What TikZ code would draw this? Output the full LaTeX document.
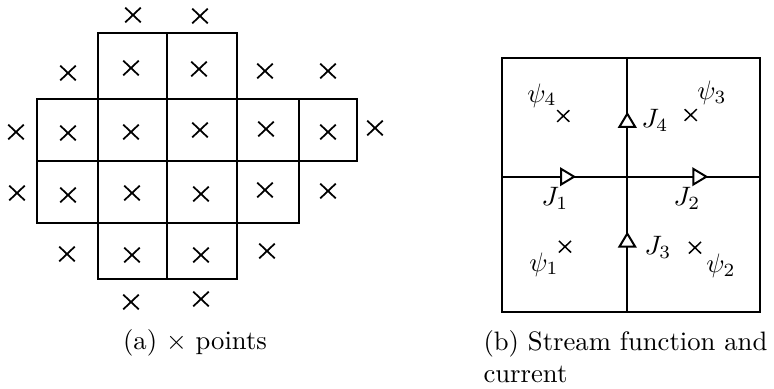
\documentclass[tikz,border=0pt]{standalone}
\usepackage{amsmath,amssymb}
\usepackage{tikz}
\usetikzlibrary{shapes.misc,arrows.meta,decorations.markings}

\tikzset{flowtip/.tip={Triangle[fill=white, length=6pt, width=7pt]}}

\begin{document}
\begin{tikzpicture}[x=0.375pt, y=-0.375pt,
    cell/.style={draw, line width=0.9pt},
    xbig/.style={cross out, draw, line width=0.65pt, minimum width=5.2pt, minimum height=4.9pt, inner sep=0pt},
    xsmall/.style={cross out, draw, line width=0.55pt, minimum width=4pt, minimum height=3.8pt, inner sep=0pt},
    lab/.style={inner sep=0pt, anchor=base}]

    \useasboundingbox (0,0) rectangle (774,389);

    % (a) cells and points
    \foreach \xa/\xb/\ya/\yb in {98/167/33/99, 167/237/33/99,
        37/98/99/161, 98/167/99/161, 167/237/99/161, 237/299/99/161, 299/357/99/161,
        37/98/161/223, 98/167/161/223, 167/237/161/223, 237/299/161/223,
        98/167/223/279, 167/237/223/279}
        \draw[cell] (\xa,\ya) rectangle (\xb,\yb);

    \foreach \px/\py [count=\i] in {133/15, 200/16,
        68/73, 131/68, 199/69, 265/71, 328/71,
        16/132, 68/133, 131/132, 200/130, 266/129, 328/132, 375/128,
        17/193, 68/195, 132/193, 201/194, 265/190, 328/191,
        67/254, 132/255, 201/255, 267/251,
        131/302, 201/299}
        \node[xbig] (p\i) at (\px,\py) {};

    \node[lab] (capA) at (195,350) {(a) $\times$ points};

    % (b) stream function and current
    \coordinate (sqnw) at (501.7,58.3);
    \coordinate (sqse) at (760,311.7);
    \coordinate (midW) at (501.7,176.7);
    \coordinate (midE) at (760,176.7);
    \coordinate (midS) at (627.3,311.7);
    \coordinate (midN) at (627.3,58.3);

    \draw[line width=0.75pt] (sqnw) rectangle (sqse);
    \draw[line width=0.75pt, postaction={decorate}, decoration={markings,
        mark=at position 0.288 with {\arrow{flowtip}},
        mark=at position 0.80 with {\arrow{flowtip}}}] (midW) -- (midE);
    \draw[line width=0.75pt, postaction={decorate}, decoration={markings,
        mark=at position 0.316 with {\arrow{flowtip}},
        mark=at position 0.789 with {\arrow{flowtip}}}] (midS) -- (midN);

    \node[xsmall] (q4) at (563.3,116) {};
    \node[xsmall] (q3) at (690.7,115) {};
    \node[xsmall] (q1) at (565,246.7) {};
    \node[xsmall] (q2) at (695,247.7) {};

    \node[lab] (psi4) at (542,102) {$\psi_4$};
    \node[lab] (psi3) at (712,100) {$\psi_3$};
    \node[lab] (psi1) at (544,271) {$\psi_1$};
    \node[lab] (psi2) at (721,273) {$\psi_2$};
    \node[lab] (J4) at (655,128) {$J_4$};
    \node[lab] (J1) at (555,206) {$J_1$};
    \node[lab] (J2) at (687,206) {$J_2$};
    \node[lab] (J3) at (658,255) {$J_3$};

    \node[inner sep=0pt, anchor=north west, align=left] (capB) at (483,330)
        {(b) Stream function and\\current};
\end{tikzpicture}
\end{document}
